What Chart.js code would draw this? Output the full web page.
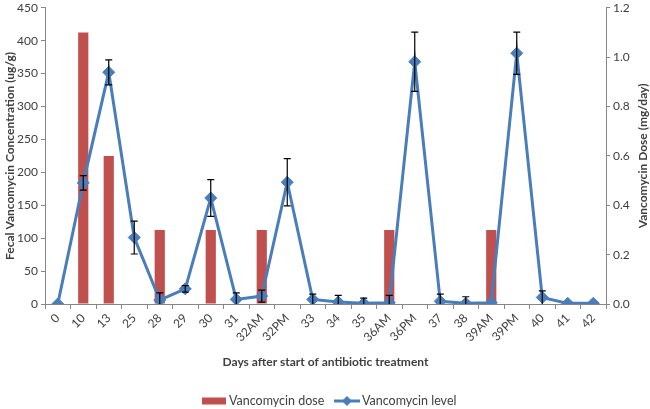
<!DOCTYPE html>
<html>
<head>
<meta charset="utf-8">
<script src="https://cdn.jsdelivr.net/npm/chart.js@4/dist/chart.umd.min.js"></script>
<style>
  html, body { margin: 0; padding: 0; background: #fff; }
  #wrap { width: 650px; height: 409px; }
</style>
</head>
<body>
<div id="wrap"><canvas id="vanco_chart"></canvas></div>
<script>
var days = ['0', '10', '13', '25', '28', '29', '30', '31', '32AM', '32PM', '33', '34', '35',
            '36AM', '36PM', '37', '38', '39AM', '39PM', '40', '41', '42'];
var doseValues = [null, 1.1, 0.6, null, 0.3, null, 0.3, null, 0.3, null, null, null, null,
                  0.3, null, null, null, 0.3, null, null, null, null];
var levelValues = [0, 184, 352, 101, 6, 23, 161, 7, 12, 185, 7, 3, 1,
                   2, 368, 4, 1, 2, 381, 10, 1, 1];
var levelErrors = [0, 11, 19, 25, 11, 5, 28, 10, 9, 36, 8, 10, 8,
                   11, 45, 11, 10, 0, 32, 10, 0, 0];
var leftTicks = [0, 50, 100, 150, 200, 250, 300, 350, 400, 450];
var rightTicks = [0, 0.2, 0.4, 0.6, 0.8, 1.0, 1.2];

var barColor = '#c0504d';
var lineColor = '#4a7ebb';
var axisColor = '#868686';
var textColor = '#404040';
var fontFamily = 'Lato, "Liberation Sans", sans-serif';

// error bars on the level line
var errorBarPlugin = {
    id: 'errorBars',
    afterDatasetsDraw: function (chart) {
        var meta = chart.getDatasetMeta(1);
        var y = chart.scales.y;
        var area = chart.chartArea;
        var ctx = chart.ctx;
        ctx.save();
        ctx.strokeStyle = '#000';
        ctx.lineWidth = 1.2;
        meta.data.forEach(function (pt, i) {
            var err = levelErrors[i];
            if (!err) {
                return;
            }
            var v = levelValues[i];
            var top = y.getPixelForValue(v + err);
            var bot = Math.min(y.getPixelForValue(v - err), area.bottom);
            ctx.beginPath();
            ctx.moveTo(pt.x, top);
            ctx.lineTo(pt.x, bot);
            ctx.moveTo(pt.x - 3.5, top);
            ctx.lineTo(pt.x + 3.5, top);
            if (bot < area.bottom) {
                ctx.moveTo(pt.x - 3.5, bot);
                ctx.lineTo(pt.x + 3.5, bot);
            }
            ctx.stroke();
        });
        ctx.restore();
    }
};

// right axis title (reads bottom to top) and the legend under the x title
var extrasPlugin = {
    id: 'extras',
    afterDraw: function (chart) {
        var area = chart.chartArea;
        var ctx = chart.ctx;
        ctx.save();
        ctx.translate(643, (area.top + area.bottom) / 2);
        ctx.rotate(-Math.PI / 2);
        ctx.font = 'bold 12px ' + fontFamily;
        ctx.fillStyle = textColor;
        ctx.textAlign = 'center';
        ctx.textBaseline = 'middle';
        ctx.fillText('Vancomycin Dose (mg/day)', 0, 0);
        ctx.restore();

        var ly = 401;
        ctx.save();
        ctx.font = '12.5px ' + fontFamily;
        ctx.fillStyle = textColor;
        ctx.textBaseline = 'middle';
        ctx.textAlign = 'left';

        ctx.fillStyle = barColor;
        ctx.fillRect(202, ly - 3.5, 24, 7);
        ctx.fillStyle = textColor;
        ctx.fillText('Vancomycin dose', 229, ly);

        ctx.strokeStyle = lineColor;
        ctx.lineWidth = 3;
        ctx.beginPath();
        ctx.moveTo(334, ly);
        ctx.lineTo(360, ly);
        ctx.stroke();
        ctx.fillStyle = lineColor;
        ctx.beginPath();
        ctx.moveTo(347, ly - 5);
        ctx.lineTo(352, ly);
        ctx.lineTo(347, ly + 5);
        ctx.lineTo(342, ly);
        ctx.closePath();
        ctx.fill();
        ctx.fillStyle = textColor;
        ctx.fillText('Vancomycin level', 362, ly);
        ctx.restore();
    }
};

var element = document.getElementById('vanco_chart');

var options = {
    responsive: true,
    maintainAspectRatio: false,
    animation: false,
    layout: {
        padding: { top: 0, left: 0, right: 0, bottom: 30 }
    },
    plugins: {
        legend: { display: false },
        tooltip: { enabled: false }
    },
    scales: {
        x: {
            grid: {
                display: true,
                drawOnChartArea: false,
                tickLength: 5,
                color: axisColor
            },
            border: { color: axisColor, width: 1 },
            ticks: {
                color: textColor,
                font: { family: fontFamily, size: 12 },
                maxRotation: 45,
                minRotation: 45,
                autoSkip: false,
                padding: 2
            },
            title: {
                display: true,
                text: 'Days after start of antibiotic treatment',
                color: textColor,
                font: { family: fontFamily, size: 12, weight: 'bold' },
                padding: { top: 0, bottom: 10 }
            },
            afterFit: function (scale) {
                scale.height = 75;
            }
        },
        y: {
            position: 'left',
            min: 0,
            max: 450,
            afterBuildTicks: function (scale) {
                scale.ticks = leftTicks.map(function (v) { return { value: v }; });
            },
            grid: {
                display: true,
                drawOnChartArea: false,
                tickLength: 4,
                color: axisColor
            },
            border: { color: axisColor, width: 1 },
            ticks: {
                color: textColor,
                font: { family: fontFamily, size: 12, lineHeight: 0.8 },
                padding: 3
            },
            title: {
                display: true,
                text: 'Fecal Vancomycin Concentration (ug/g)',
                color: textColor,
                font: { family: fontFamily, size: 12, weight: 'bold' },
                padding: { top: 3, bottom: 0 }
            },
            afterFit: function (scale) {
                scale.width = 45;
            }
        },
        y1: {
            position: 'right',
            min: 0,
            max: 1.2,
            afterBuildTicks: function (scale) {
                scale.ticks = rightTicks.map(function (v) { return { value: v }; });
            },
            grid: {
                display: true,
                drawOnChartArea: false,
                tickLength: 4,
                color: axisColor
            },
            border: { color: axisColor, width: 1 },
            ticks: {
                color: textColor,
                font: { family: fontFamily, size: 12, lineHeight: 0.8 },
                padding: 3,
                callback: function (val) {
                    return Number(val).toFixed(1);
                }
            },
            afterFit: function (scale) {
                scale.width = 44;
            }
        }
    }
};

var chart = new Chart(element, {
    type: 'bar',
    data: {
        labels: days,
        datasets: [
            {
                type: 'bar',
                label: 'Vancomycin dose',
                data: doseValues,
                yAxisID: 'y1',
                backgroundColor: barColor,
                categoryPercentage: 1,
                barPercentage: 0.4,
                order: 2
            },
            {
                type: 'line',
                label: 'Vancomycin level',
                data: levelValues,
                yAxisID: 'y',
                borderColor: lineColor,
                backgroundColor: lineColor,
                borderWidth: 3,
                tension: 0,
                pointStyle: 'rectRot',
                pointRadius: 6,
                pointBorderWidth: 1,
                order: 1
            }
        ]
    },
    options: options,
    plugins: [errorBarPlugin, extrasPlugin]
});
</script>
</body>
</html>
